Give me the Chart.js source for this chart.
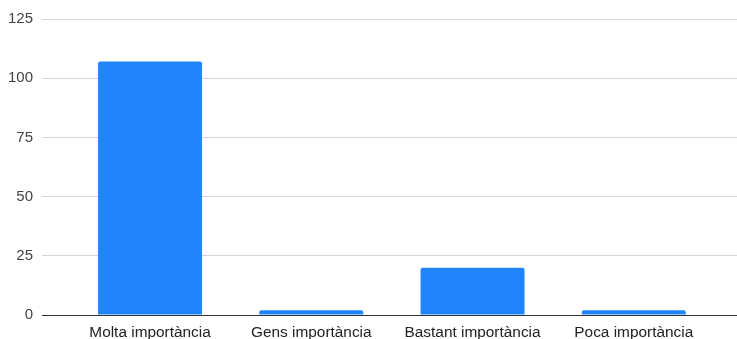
<!DOCTYPE html>
<html>
<head>
<meta charset="utf-8">
<script src="https://cdn.jsdelivr.net/npm/chart.js@4"></script>
<style>
  html, body { margin: 0; padding: 0; background: #fff; }
  #wrap { width: 737px; height: 339px; }
</style>
</head>
<body>
<div id="wrap"><canvas id="chart" width="737" height="339"></canvas></div>
<script>
// ═══════════ DATOS ═══════════
const categorias = ['Molta importància', 'Gens importància', 'Bastant importància', 'Poca importància'];
const valores = [107, 2, 20, 2];
const ticksY = [0, 25, 50, 75, 100, 125];

const FONT = 'Liberation Sans, Arial, sans-serif';

// ═══════════ CHART ═══════════
new Chart(document.getElementById('chart'), {
  type: 'bar',
  data: {
    datasets: [{
      data: valores.map((v, i) => ({ x: i, y: v })),
      backgroundColor: '#2186fe',
      borderRadius: { topLeft: 2, topRight: 2, bottomLeft: 0, bottomRight: 0 },
      borderSkipped: 'bottom',
      categoryPercentage: 1,
      barPercentage: 0.645
    }]
  },
  options: {
    responsive: false,
    animation: false,
    layout: { padding: { top: 19, right: 0, left: 0, bottom: 0 } },
    plugins: { legend: { display: false }, tooltip: { enabled: false } },
    scales: {
      x: {
        type: 'linear',
        offset: false,
        min: -0.67,
        max: 3.64,
        grid: { display: false },
        border: { display: true, color: '#333', width: 1 },
        // solo las categorías como ticks (si no, el ancho de barra sale del hueco min-tick)
        afterBuildTicks: s => { s.ticks = categorias.map((c, i) => ({ value: i })); },
        ticks: {
          autoSkip: false,
          maxRotation: 0,
          padding: 1,
          color: '#222',
          font: { family: FONT, size: 15.4 },
          callback: v => categorias[v] || ''
        },
        afterFit: s => { s.height = 24; }
      },
      y: {
        min: ticksY[0],
        max: ticksY[ticksY.length - 1],
        grid: { color: '#d6d6d6', lineWidth: 1, drawTicks: false },
        border: { display: false },
        afterBuildTicks: s => { s.ticks = ticksY.map(v => ({ value: v })); },
        ticks: {
          padding: 9,
          color: '#444',
          font: { family: FONT, size: 15 }
        },
        afterFit: s => { s.width = 42; }
      }
    }
  }
});
</script>
</body>
</html>
